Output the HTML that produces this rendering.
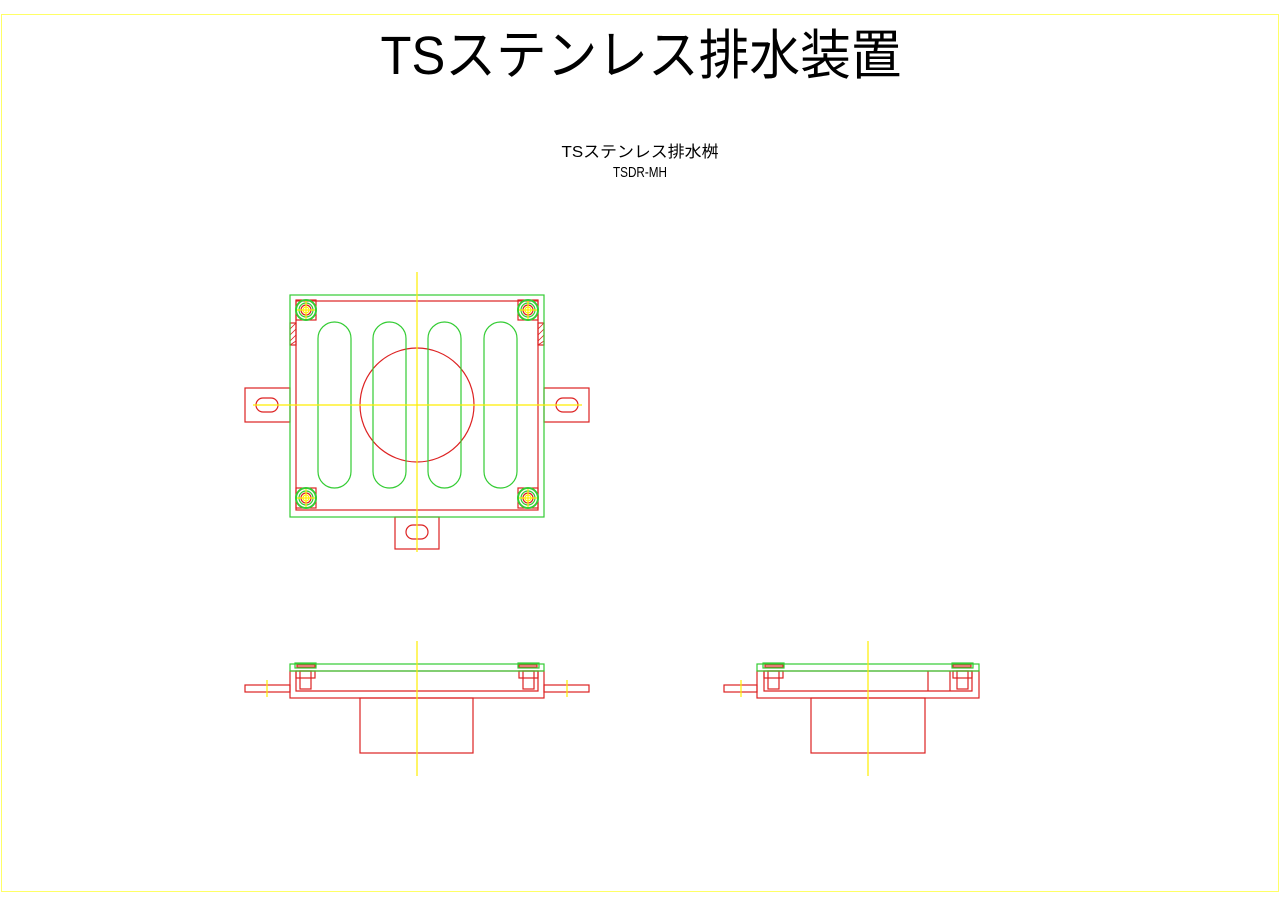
<!DOCTYPE html>
<html><head><meta charset="utf-8"><style>
html,body{margin:0;padding:0;background:#fff;}
svg{display:block;}
text{font-family:"Liberation Sans","Noto Sans CJK JP",sans-serif;fill:#000;}
</style></head><body>
<svg width="1280" height="905" viewBox="0 0 1280 905" xmlns="http://www.w3.org/2000/svg">
<defs>
<g id="b" fill="none" stroke-width="1.2">
<rect x="-10" y="-10" width="20" height="20" stroke="#dd2222"/>
<circle r="10" stroke="#33cc33" stroke-width="2"/>
<circle r="7" stroke="#33cc33"/>
<circle r="5" stroke="#dd2222"/>
<circle r="3" stroke="#ffee00"/>
<path d="M-9 0h18M0 -9v18" stroke="#ffee00"/>
</g>
</defs>
<rect x="1.5" y="14.5" width="1277" height="877" fill="none" stroke="#ffff66" stroke-width="1"/>
<text x="641" y="74" font-size="54" text-anchor="middle" textLength="521" lengthAdjust="spacingAndGlyphs">TSステンレス排水装置</text>
<text x="640" y="157" font-size="16" text-anchor="middle" textLength="157" lengthAdjust="spacingAndGlyphs">TSステンレス排水桝</text>
<text x="640" y="177" font-size="15" text-anchor="middle" textLength="54" lengthAdjust="spacingAndGlyphs">TSDR-MH</text>

<g fill="none" stroke-width="1.2">
<g stroke="#dd2222">
<rect x="296" y="301" width="242" height="209"/>
<circle cx="417" cy="405" r="57"/>
<rect x="245" y="388" width="45" height="34"/>
<rect x="544" y="388" width="45" height="34"/>
<rect x="395" y="517" width="44" height="32"/>
<rect x="256" y="398" width="22" height="14" rx="7"/>
<rect x="556" y="398" width="22" height="14" rx="7"/>
<rect x="406" y="525" width="22" height="14" rx="7"/>
<rect x="290" y="323" width="6" height="22"/>
<rect x="538" y="323" width="6" height="22"/>
<path d="M290 329l6-6M290 335l6-6M290 341l6-6M290 345l6-4M538 329l6-6M538 335l6-6M538 341l6-6M538 345l6-4" stroke-width="0.8"/>
</g>
<g stroke="#33cc33">
<rect x="290" y="295" width="254" height="222"/>
<rect x="318" y="322" width="33" height="166" rx="16.5"/>
<rect x="373" y="322" width="33" height="166" rx="16.5"/>
<rect x="428" y="322" width="33" height="166" rx="16.5"/>
<rect x="484" y="322" width="33" height="166" rx="16.5"/>
</g>
<use href="#b" transform="translate(306,310)"/>
<use href="#b" transform="translate(528,310)"/>
<use href="#b" transform="translate(306,498)"/>
<use href="#b" transform="translate(528,498)"/>
<path d="M417 272V552M253 405H582" stroke="#ffee00"/>

<g stroke="#dd2222">
<rect x="290" y="671" width="254" height="27"/>
<path d="M296 671V691H538V671"/>
<rect x="245" y="685" width="45" height="7"/>
<rect x="544" y="685" width="45" height="7"/>
<rect x="360" y="698" width="113" height="55"/>
<rect x="296" y="671" width="19" height="7"/><rect x="300" y="671" width="11" height="18"/>
<rect x="519" y="671" width="19" height="7"/><rect x="523" y="671" width="11" height="18"/>
<rect x="297" y="665" width="18" height="2"/><rect x="519" y="665" width="18" height="2"/>
</g>
<g stroke="#33cc33">
<rect x="290" y="664" width="254" height="7"/>
<rect x="295" y="663" width="21" height="5"/><rect x="518" y="663" width="21" height="5"/>
</g>
<path d="M417 641V776M267 680V697M567 680V697" stroke="#ffee00"/>

<g stroke="#dd2222">
<rect x="757" y="671" width="222" height="27"/>
<path d="M764 671V691H972V671M928 671V691M950 671V691"/>
<rect x="724" y="685" width="33" height="7"/>
<rect x="811" y="698" width="114" height="55"/>
<rect x="764" y="671" width="19" height="7"/><rect x="768" y="671" width="11" height="18"/>
<rect x="953" y="671" width="19" height="7"/><rect x="957" y="671" width="11" height="18"/>
<rect x="765" y="665" width="18" height="2"/><rect x="953" y="665" width="18" height="2"/>
</g>
<g stroke="#33cc33">
<rect x="757" y="664" width="222" height="7"/>
<rect x="763" y="663" width="21" height="5"/><rect x="952" y="663" width="21" height="5"/>
</g>
<path d="M868 641V776M741 680V697" stroke="#ffee00"/>
</g>
</svg>
</body></html>
